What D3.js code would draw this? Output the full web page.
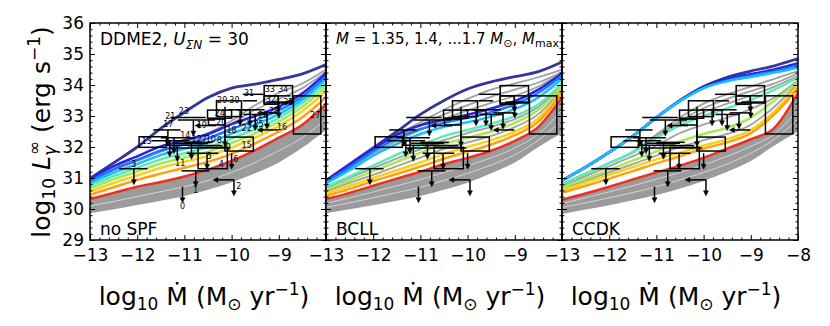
<!DOCTYPE html>
<html lang="en">
<head>
<meta charset="UTF-8">
<title>Luminosity vs accretion rate</title>
<script src="https://d3js.org/d3.v7.min.js"></script>
<style>
    body { margin: 0; background: #fff; }
    svg text { font-family: "DejaVu Sans", sans-serif; }
</style>
</head>
<body>
<svg width="830" height="326"></svg>
<script>

var gridMdot = [-13, -12.5, -12, -11.5, -11, -10.5, -10, -9.5, -9, -8.5, -8];

var massLabels = ["1.35", "1.40", "1.45", "1.50", "1.55", "1.60", "1.65", "1.70"];
var massColors = ["#2323ee", "#1a78ff", "#18c0ff", "#5cecb8", "#a6e85a", "#f5d21c", "#ffa00f", "#ee3020"];
var mmaxColor = "#35359b";

// ---- panel 1: no SPF
var noSpfMmax = [30.99, 31.49, 32.0, 32.6, 33.12, 33.6, 33.9, 34.03, 34.18, 34.36, 34.66];
var noSpfMasses = [
    [30.97, 31.38, 31.70, 32.02, 32.22, 32.42, 32.74, 33.00, 33.30, 33.73, 34.38],
    [30.90, 31.28, 31.58, 31.88, 32.08, 32.28, 32.58, 32.86, 33.18, 33.62, 34.28],
    [30.82, 31.17, 31.45, 31.74, 31.94, 32.13, 32.43, 32.72, 33.06, 33.52, 34.18],
    [30.74, 31.06, 31.33, 31.60, 31.80, 31.99, 32.28, 32.58, 32.94, 33.42, 34.06],
    [30.66, 30.96, 31.21, 31.47, 31.66, 31.85, 32.13, 32.44, 32.82, 33.30, 33.94],
    [30.56, 30.84, 31.08, 31.33, 31.52, 31.71, 31.98, 32.30, 32.68, 33.16, 33.80],
    [30.46, 30.70, 30.94, 31.14, 31.33, 31.52, 31.78, 32.12, 32.50, 32.96, 33.60],
    [30.32, 30.52, 30.72, 30.87, 31.05, 31.27, 31.55, 31.90, 32.30, 32.72, 33.38]
];
var noSpfGrayLow = [29.86, 29.99, 30.13, 30.27, 30.42, 30.62, 30.86, 31.15, 31.5, 31.98, 32.55];
var noSpfGrayLines = [
    [30.9, 31.3, 31.6, 31.9, 32.15, 32.45, 32.85, 33.35, 33.75, 34.05, 34.5],
    [30.88, 31.25, 31.55, 31.85, 32.1, 32.38, 32.75, 33.2, 33.55, 33.9, 34.42]
];
var noSpfWhiteLines = [
    [30.1, 30.24, 30.4, 30.56, 30.72, 30.92, 31.18, 31.5, 31.88, 32.3, 32.9]
];

// ---- panel 2: BCLL
var bcllMmax = [30.92, 31.45, 31.97, 32.5, 33.05, 33.5, 33.87, 34.1, 34.27, 34.43, 34.74];
var bcllMasses = [
    [30.90, 31.42, 31.94, 32.40, 32.70, 32.88, 33.04, 33.24, 33.48, 33.85, 34.38],
    [30.86, 31.35, 31.86, 32.28, 32.58, 32.78, 32.94, 33.12, 33.38, 33.75, 34.30],
    [30.82, 31.25, 31.72, 32.10, 32.42, 32.65, 32.80, 32.98, 33.22, 33.60, 34.20],
    [30.72, 31.05, 31.40, 31.75, 32.05, 32.35, 32.55, 32.75, 33.00, 33.38, 34.05],
    [30.62, 30.92, 31.22, 31.52, 31.82, 32.10, 32.30, 32.50, 32.78, 33.20, 33.95],
    [30.50, 30.75, 31.00, 31.25, 31.50, 31.78, 32.00, 32.22, 32.50, 32.92, 33.82],
    [30.42, 30.65, 30.90, 31.13, 31.37, 31.62, 31.85, 32.08, 32.38, 32.82, 33.75],
    [30.32, 30.52, 30.75, 30.98, 31.20, 31.45, 31.65, 31.88, 32.20, 32.65, 33.60]
];
var bcllGrayLow = [29.86, 29.99, 30.12, 30.27, 30.42, 30.62, 30.85, 31.15, 31.5, 32.0, 32.45];
var bcllGrayLines = [
    [30.88, 31.38, 31.9, 32.38, 32.8, 33.2, 33.55, 33.85, 34.05, 34.25, 34.5],
    [30.86, 31.36, 31.86, 32.32, 32.72, 33.05, 33.35, 33.62, 33.85, 34.08, 34.42],
    [30.84, 31.3, 31.78, 32.2, 32.55, 32.9, 33.18, 33.42, 33.65, 33.95, 34.4],
    [30.68, 31.0, 31.32, 31.63, 31.93, 32.22, 32.45, 32.65, 32.9, 33.3, 34.0],
    [30.56, 30.84, 31.1, 31.38, 31.66, 31.94, 32.15, 32.36, 32.64, 33.06, 33.88]
];
var bcllWhiteLines = [
    [30.05, 30.2, 30.36, 30.53, 30.7, 30.92, 31.15, 31.42, 31.75, 32.22, 32.85],
    [30.18, 30.36, 30.55, 30.75, 30.95, 31.18, 31.4, 31.65, 31.97, 32.42, 33.2]
];

// ---- panel 3: CCDK
var ccdkMmax = [30.92, 31.35, 31.83, 32.35, 32.95, 33.5, 33.95, 34.25, 34.45, 34.62, 34.85];
var ccdkMasses = [
    [30.92, 31.35, 31.83, 32.35, 32.95, 33.50, 33.93, 34.20, 34.35, 34.50, 34.70],
    [30.92, 31.35, 31.83, 32.35, 32.95, 33.48, 33.90, 34.15, 34.30, 34.44, 34.62],
    [30.92, 31.35, 31.83, 32.35, 32.95, 33.48, 33.90, 34.12, 34.26, 34.40, 34.56],
    [30.80, 31.14, 31.48, 31.82, 32.30, 32.70, 33.00, 33.25, 33.52, 33.85, 34.25],
    [30.70, 30.98, 31.27, 31.56, 31.86, 32.18, 32.42, 32.62, 32.95, 33.50, 34.10],
    [30.60, 30.85, 31.10, 31.35, 31.60, 31.82, 32.05, 32.25, 32.55, 33.15, 34.00],
    [30.52, 30.75, 30.98, 31.22, 31.47, 31.70, 31.95, 32.15, 32.45, 33.05, 33.90],
    [30.30, 30.50, 30.72, 30.95, 31.18, 31.40, 31.65, 31.95, 32.25, 32.62, 33.75]
];
var ccdkGrayLow = [29.84, 29.98, 30.12, 30.28, 30.45, 30.66, 30.9, 31.2, 31.55, 32.05, 32.5];
var ccdkGrayLines = [
    [30.8, 31.14, 31.48, 31.85, 32.4, 32.95, 33.4, 33.7, 33.95, 34.2, 34.45],
    [30.8, 31.14, 31.48, 31.84, 32.35, 32.85, 33.25, 33.55, 33.8, 34.05, 34.38],
    [30.8, 31.14, 31.48, 31.83, 32.32, 32.78, 33.12, 33.4, 33.66, 33.95, 34.3],
    [30.75, 31.06, 31.38, 31.7, 32.05, 32.45, 32.72, 32.95, 33.22, 33.6, 34.15],
    [30.65, 30.92, 31.18, 31.45, 31.72, 32.0, 32.22, 32.42, 32.72, 33.3, 34.05]
];
var ccdkWhiteLines = [
    [30.05, 30.2, 30.36, 30.53, 30.72, 30.94, 31.18, 31.45, 31.8, 32.25, 32.9],
    [30.18, 30.36, 30.55, 30.75, 30.96, 31.18, 31.42, 31.7, 32.02, 32.42, 33.2]
];

// ---- observed sources (same in every panel)
// boxes: [id, mdotLo, mdotHi, lumLo, lumHi]
var obsBoxes = [
    [4, -10.71, -10.09, 31.30, 31.99],
    [13, -11.96, -11.38, 31.99, 32.33],
    [15, -10.14, -9.54, 31.87, 32.32],
    [20, -10.49, -10.14, 32.71, 32.90],
    [24, -10.51, -10.0, 32.93, 33.19],
    [27, -8.69, -8.11, 32.42, 33.65],
    [29, -10.32, -9.79, 32.98, 33.49],
    [32, -9.31, -9.01, 33.38, 33.65],
    [33, -9.31, -8.71, 33.42, 33.98]
];
// horizontal error bars: [id, mdot, lum, mdotLo, mdotHi, upper limit on L]
var obsBars = [
    [1, -10.76, 31.23, -11.06, -10.47, 1],
    [3, -12.07, 31.30, -12.38, -11.78, 1],
    [5, -10.52, 31.80, -10.95, -10.28, 1],
    [7, -10.85, 32.12, -11.2, -10.5, 1],
    [8, -10.55, 32.05, -10.95, -10.2, 0],
    [9, -10.1, 31.97, -11.3, -10.03, 0],
    [10, -10.7, 32.15, -11.0, -10.4, 0],
    [11, -11.15, 32.06, -11.4, -10.6, 1],
    [12, -11.31, 32.2, -11.7, -10.9, 1],
    [14, -11.22, 32.3, -11.5, -10.8, 1],
    [17, -11.35, 32.55, -11.66, -11.08, 1],
    [21, -11.05, 32.95, -11.3, -10.55, 0],
    [22, -9.82, 33.2, -10.05, -9.6, 1],
    [23, -10.81, 32.87, -11.14, -10.35, 1],
    [25, -9.61, 33.2, -9.9, -9.3, 1],
    [26, -9.5, 33.05, -9.75, -9.25, 1],
    [28, -9.25, 33.1, -9.45, -9.0, 1],
    [30, -9.65, 33.49, -9.76, -9.46, 0],
    [31, -9.55, 33.70, -9.76, -9.3, 0],
    [34, -9.01, 33.65, -9.3, -8.75, 1],
    [35, -9.0, 33.45, -9.2, -8.7, 1]
];
// vertical error bars: [id, mdot, lumLo, lumHi]
var obsVBars = [
    [18, -10.14, 32.33, 33.30]
];
// limits: [id, mdot, lum, upper limit on Mdot, upper limit on L]
var obsLimits = [
    [0, -11.04, 30.72, 0, 1],
    [2, -9.95, 30.94, 1, 1],
    [6, -10.0, 31.80, 0, 1],
    [16, -9.01, 32.55, 1, 0],
    [19, -10.33, 32.69, 1, 0]
];
// where each source number is written (first panel only): [id, mdot, lum]
var obsLabels = [
    [0, -11.04, 30.07], [1, -10.76, 30.6], [2, -9.85, 30.74], [3, -12.07, 31.44],
    [4, -10.22, 31.45], [5, -10.47, 31.68], [6, -9.91, 31.61], [7, -10.58, 32.23],
    [8, -10.26, 32.2], [9, -10.07, 31.99], [10, -10.44, 32.23], [11, -11.09, 31.47],
    [12, -10.74, 32.23], [13, -11.8, 32.17], [14, -10.98, 32.37], [15, -9.68, 32.06],
    [16, -8.93, 32.62], [17, -11.34, 32.74], [18, -10.0, 32.52], [19, -10.63, 32.69],
    [20, -10.22, 32.8], [21, -11.3, 32.98], [22, -9.68, 32.6], [23, -11.01, 33.14],
    [24, -10.25, 33.08], [25, -9.43, 32.74], [26, -9.33, 33.03], [27, -8.23, 33.01],
    [28, -9.1, 33.13], [29, -10.2, 33.49], [30, -9.94, 33.49], [31, -9.63, 33.72],
    [32, -9.17, 33.52], [33, -9.19, 33.84], [34, -8.91, 33.84], [35, -8.8, 33.44]
];

var panels = [
    { name: "no SPF", mmax: noSpfMmax, masses: noSpfMasses, low: noSpfGrayLow, gray: noSpfGrayLines, white: noSpfWhiteLines },
    { name: "BCLL", mmax: bcllMmax, masses: bcllMasses, low: bcllGrayLow, gray: bcllGrayLines, white: bcllWhiteLines },
    { name: "CCDK", mmax: ccdkMmax, masses: ccdkMasses, low: ccdkGrayLow, gray: ccdkGrayLines, white: ccdkWhiteLines }
];

var svg = d3.select("svg");
var plotTop = 23, plotBottom = 240;
var panelX0 = [90, 326, 562];
var panelW = 236;

var y = d3.scaleLinear().domain([29, 36]).range([plotBottom, plotTop]);

var majorX = [-13, -12, -11, -10, -9, -8];
var minorX = d3.range(0, 26).map(function(k) { return +(-13 + k * 0.2).toFixed(1); })
    .filter(function(v) { return !Number.isInteger(v); });
var majorY = d3.range(29, 37);
var minorY = d3.range(0, 36).map(function(k) { return +(29 + k * 0.2).toFixed(1); })
    .filter(function(v) { return !Number.isInteger(v); });

function styleAxis(sel) {
    sel.select(".domain").remove();
    sel.attr("font-family", null).attr("font-size", null);
    sel.selectAll("line").attr("stroke", "#000").attr("stroke-width", 1);
    sel.selectAll("text").style("font-size", "17px").attr("fill", "#000");
}

panels.forEach(function(p, i) {
    var x0 = panelX0[i];
    var x = d3.scaleLinear().domain([-13, -8]).range([x0, x0 + panelW]);
    var g = svg.append("g");

    g.append("clipPath").attr("id", "clip" + i)
        .append("rect").attr("x", x0).attr("y", plotTop)
        .attr("width", panelW).attr("height", plotBottom - plotTop);
    var plot = g.append("g").attr("clip-path", "url(#clip" + i + ")");

    var line = d3.line()
        .x(function(d, k) { return x(gridMdot[k]); })
        .y(function(d) { return y(d); })
        .curve(d3.curveMonotoneX);
    var band = d3.area()
        .x(function(d, k) { return x(gridMdot[k]); })
        .y0(function(d, k) { return y(p.low[k]); })
        .y1(function(d) { return y(d); })
        .curve(d3.curveMonotoneX);

    // solid grey band of the other models, below the coolest coloured curve
    plot.append("path").datum(p.masses[7]).attr("d", band).attr("fill", "#9b9b9b");
    p.white.forEach(function(w) {
        plot.append("path").datum(w).attr("d", line)
            .attr("fill", "none").attr("stroke", "#fff").attr("stroke-width", 0.7).attr("opacity", 0.8);
    });
    p.gray.forEach(function(s) {
        plot.append("path").datum(s).attr("d", line)
            .attr("fill", "none").attr("stroke", "#a0a0a0").attr("stroke-width", 1.8);
    });

    // Mmax then the mass sequence
    plot.append("path").datum(p.mmax).attr("d", line)
        .attr("fill", "none").attr("stroke", mmaxColor).attr("stroke-width", 2.8);
    p.masses.forEach(function(s, k) {
        plot.append("path").datum(s).attr("d", line)
            .attr("fill", "none").attr("stroke", massColors[k]).attr("stroke-width", 2.5)
            .attr("data-mass", massLabels[k]);
    });

    // observed sources
    var obs = plot.append("g").attr("stroke", "#000").attr("stroke-width", 1.5).attr("fill", "none");

    function downArrow(px, py) {
        obs.append("line").attr("x1", px).attr("y1", py).attr("x2", px).attr("y2", py + 13);
        obs.append("path").attr("d", "M" + (px - 2.5) + "," + (py + 11) + "L" + (px + 2.5) + "," + (py + 11) + "L" + px + "," + (py + 16) + "Z")
            .attr("fill", "#000").attr("stroke-width", 0.5);
    }
    function leftArrow(px, py) {
        obs.append("line").attr("x1", px).attr("y1", py).attr("x2", px - 18).attr("y2", py);
        obs.append("path").attr("d", "M" + (px - 16) + "," + (py - 2.5) + "L" + (px - 16) + "," + (py + 2.5) + "L" + (px - 21) + "," + py + "Z")
            .attr("fill", "#000").attr("stroke-width", 0.5);
    }

    obsBoxes.forEach(function(b) {
        obs.append("rect")
            .attr("x", x(b[1])).attr("y", y(b[4]))
            .attr("width", x(b[2]) - x(b[1])).attr("height", y(b[3]) - y(b[4]));
    });
    obsBars.forEach(function(b) {
        obs.append("line").attr("x1", x(b[3])).attr("x2", x(b[4])).attr("y1", y(b[2])).attr("y2", y(b[2]));
        if (b[5]) downArrow(x(b[1]), y(b[2]));
    });
    obsVBars.forEach(function(b) {
        obs.append("line").attr("x1", x(b[1])).attr("x2", x(b[1])).attr("y1", y(b[2])).attr("y2", y(b[3]));
        downArrow(x(b[1]), y(b[2]) - 6);
    });
    obsLimits.forEach(function(b) {
        if (b[3]) leftArrow(x(b[1]), y(b[2]));
        if (b[4]) downArrow(x(b[1]), y(b[2]));
    });

    if (i === 0) {
        g.append("g").selectAll("text").data(obsLabels).enter().append("text")
            .attr("x", function(d) { return x(d[1]); })
            .attr("y", function(d) { return y(d[2]); })
            .attr("text-anchor", "middle").attr("dominant-baseline", "central")
            .style("font-size", "8px").attr("fill", "#000")
            .text(function(d) { return d[0]; });
    }

    // ticks on all four sides, pointing inwards
    var showLast = (i === 2);
    g.append("g").attr("transform", "translate(0," + plotBottom + ")")
        .call(d3.axisBottom(x).tickValues(majorX).tickSize(-5).tickPadding(9)
            .tickFormat(function(d) { return (d === -8 && !showLast) ? "" : d3.format("d")(d); }))
        .call(styleAxis);
    g.append("g").attr("transform", "translate(0," + plotBottom + ")")
        .call(d3.axisBottom(x).tickValues(minorX).tickSize(-2.5).tickFormat(""))
        .call(styleAxis);
    g.append("g").attr("transform", "translate(0," + plotTop + ")")
        .call(d3.axisTop(x).tickValues(majorX).tickSize(-5).tickFormat(""))
        .call(styleAxis);
    g.append("g").attr("transform", "translate(0," + plotTop + ")")
        .call(d3.axisTop(x).tickValues(minorX).tickSize(-2.5).tickFormat(""))
        .call(styleAxis);
    g.append("g").attr("transform", "translate(" + x0 + ",0)")
        .call(d3.axisLeft(y).tickValues(majorY).tickSize(-5).tickPadding(6)
            .tickFormat(i === 0 ? d3.format("d") : ""))
        .call(styleAxis);
    g.append("g").attr("transform", "translate(" + x0 + ",0)")
        .call(d3.axisLeft(y).tickValues(minorY).tickSize(-2.5).tickFormat(""))
        .call(styleAxis);
    g.append("g").attr("transform", "translate(" + (x0 + panelW) + ",0)")
        .call(d3.axisRight(y).tickValues(majorY).tickSize(-5).tickFormat(""))
        .call(styleAxis);
    g.append("g").attr("transform", "translate(" + (x0 + panelW) + ",0)")
        .call(d3.axisRight(y).tickValues(minorY).tickSize(-2.5).tickFormat(""))
        .call(styleAxis);

    g.append("rect").attr("x", x0).attr("y", plotTop)
        .attr("width", panelW).attr("height", plotBottom - plotTop)
        .attr("fill", "none").attr("stroke", "#000").attr("stroke-width", 1.5);

    // panel name, bottom left
    g.append("text").attr("x", x0 + 10).attr("y", 235)
        .style("font-size", "17px").text(p.name);

    // x axis title
    var xl = g.append("text").attr("x", x0 + panelW / 2 - 4).attr("y", 305)
        .attr("text-anchor", "middle").style("font-size", "25px");
    xl.append("tspan").text("log");
    xl.append("tspan").attr("dy", 5).style("font-size", "17px").text("10");
    xl.append("tspan").attr("dy", -5).text(" Ṁ (M");
    xl.append("tspan").attr("dy", 5).style("font-size", "17px").text("⊙");
    xl.append("tspan").attr("dy", -5).text(" yr");
    xl.append("tspan").attr("dy", -10).style("font-size", "17px").text("−1");
    xl.append("tspan").attr("dy", 10).text(")");
});

// panel 1 model label
var t1 = svg.append("text").attr("x", 100).attr("y", 45).style("font-size", "17px");
t1.append("tspan").text("DDME2, ");
t1.append("tspan").style("font-style", "italic").text("U");
t1.append("tspan").attr("dy", 4).style("font-size", "12px").style("font-style", "italic").text("ΣN");
t1.append("tspan").attr("dy", -4).text(" = 30");

// panel 2 mass label
var t2 = svg.append("text").attr("x", 336).attr("y", 44).style("font-size", "15px");
t2.append("tspan").style("font-style", "italic").text("M");
t2.append("tspan").text(" = 1.35, 1.4, ...1.7 ");
t2.append("tspan").style("font-style", "italic").text("M");
t2.append("tspan").attr("dy", 3).style("font-size", "11px").text("⊙");
t2.append("tspan").attr("dy", -3).text(", ");
t2.append("tspan").style("font-style", "italic").text("M");
t2.append("tspan").attr("dy", 3).style("font-size", "11px").text("max");

// y axis title
var yl = svg.append("text").attr("transform", "translate(50,132) rotate(-90)")
    .attr("text-anchor", "middle").style("font-size", "25px");
yl.append("tspan").text("log");
yl.append("tspan").attr("dy", 5).style("font-size", "17px").text("10");
yl.append("tspan").attr("dy", -5).text(" ");
yl.append("tspan").style("font-style", "italic").text("L");
yl.append("tspan").attr("dy", 6).style("font-size", "17px").style("font-style", "italic").text("γ");
yl.append("tspan").attr("dx", -9).attr("dy", -16).style("font-size", "17px").text("∞");
yl.append("tspan").attr("dy", 10).text(" (erg s");
yl.append("tspan").attr("dy", -10).style("font-size", "17px").text("−1");
yl.append("tspan").attr("dy", 10).text(")");

</script>
</body>
</html>
